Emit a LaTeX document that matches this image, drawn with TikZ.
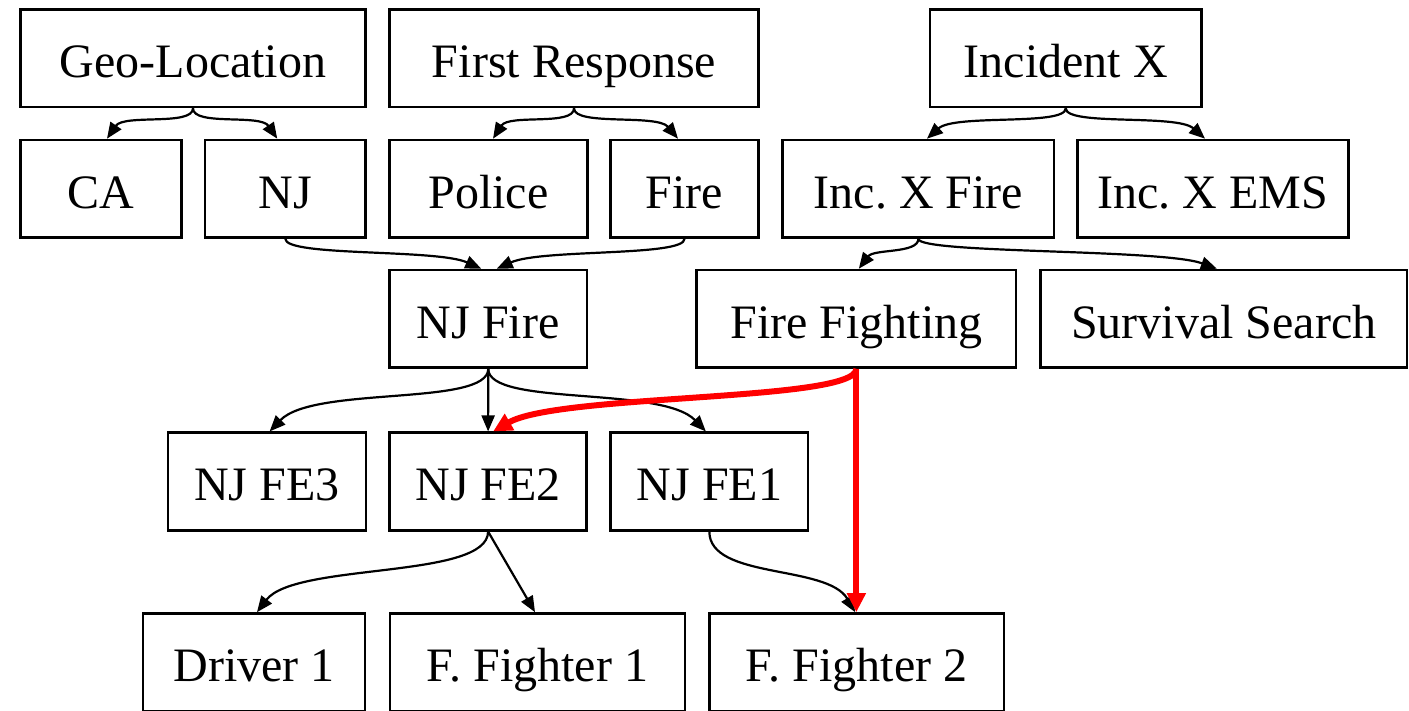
\documentclass[tikz,border=0pt]{standalone}
\usepackage{fontspec}
\setmainfont{Liberation Serif}
\usetikzlibrary{arrows.meta,calc}
\begin{document}
\frenchspacing
\begin{tikzpicture}[x=0.5pt,y=-0.5pt,
  box/.style={draw, line width=1.3pt, inner sep=0pt, minimum height=48.75pt,
    font=\fontsize{24}{28}\selectfont, text height=19.3pt, text depth=0pt},
  link/.style={line width=1.1pt, -{Triangle[length=8pt,width=6.5pt]}},
  hot/.style={draw=red, line width=3pt, -{Triangle[length=9.5pt,width=9pt]}, red},
]
\useasboundingbox (0,0) rectangle (1409,711);

% top row
\node[box, minimum width=172.5pt]  (geo)   at (193,58.25)    {Geo-Location};
\node[box, minimum width=184.5pt]  (first) at (574,58.25)    {First Response};
\node[box, minimum width=135.75pt] (incx)  at (1065.75,58.25) {Incident X};

% second row
\node[box, minimum width=80.5pt]   (ca)      at (101,188.75)    {CA};
\node[box, minimum width=80.25pt]  (nj)      at (285.25,188.75) {NJ};
\node[box, minimum width=99pt]     (police)  at (488.5,188.75)  {Police};
\node[box, minimum width=74pt]     (fire)    at (684.6,188.75)  {Fire};
\node[box, minimum width=135.65pt] (incfire) at (918.35,188.75) {Inc. X Fire};
\node[box, minimum width=135.3pt]  (incems)  at (1213,188.75)   {Inc. X EMS};

% third row
\node[box, minimum width=98.75pt]  (njfire)   at (488.25,318.75)  {NJ Fire};
\node[box, minimum width=159.65pt] (fighting) at (856.35,318.75)  {Fire Fighting};
\node[box, minimum width=183.15pt] (survival) at (1223.85,318.75) {Survival Search};

% fourth row
\node[box, minimum width=99pt]    (fe3) at (267,481.5)    {NJ FE3};
\node[box, minimum width=98.5pt]  (fe2) at (488.1,481.5)  {NJ FE2};
\node[box, minimum width=98.65pt] (fe1) at (709.35,481.5) {NJ FE1};

% bottom row
\node[box, minimum width=111pt]    (driver) at (254,662.25)    {Driver 1};
\node[box, minimum width=147.5pt]  (ff1)    at (537.5,662.25)  {F. Fighter 1};
\node[box, minimum width=147.35pt] (ff2)    at (856.65,662.25) {F. Fighter 2};

% hierarchy links
\draw[link] (geo.south) .. controls +(0,18) and +(17,-25) .. ($(ca.north)+(6,0)$);
\draw[link] (geo.south) .. controls +(0,18) and +(-17,-25) .. ($(nj.north)+(-8,0)$);
\draw[link] (first.south) .. controls +(0,18) and +(16,-25) .. ($(police.north)+(4.5,0)$);
\draw[link] (first.south) .. controls +(0,18) and +(-21,-25) .. ($(fire.north)+(-6.6,0)$);
\draw[link] (incx.south) .. controls +(0,18) and +(28,-25) .. ($(incfire.north)+(8.6,0)$);
\draw[link] (incx.south) .. controls +(0,18) and +(-28,-25) .. ($(incems.north)+(-8,0)$);

\draw[link] (nj.south) .. controls +(0,18) and +(-45,-20) .. ($(njfire.north)+(-7,0)$);
\draw[link] (fire.south) .. controls +(0,18) and +(45,-20) .. ($(njfire.north)+(8.5,0)$);
\draw[link] (incfire.south) .. controls +(0,15) and +(15,-20) .. ($(fighting.north)+(2.5,0)$);
\draw[link] (incfire.south) .. controls +(0,15) and +(-55,-20) .. ($(survival.north)+(-7,0)$);

\draw[link] (njfire.south) .. controls +(0,38) and +(44,-46) .. ($(fe3.north)+(2.6,0)$);
\draw[link] (njfire.south) -- (fe2.north);
\draw[link] (njfire.south) .. controls +(0,38) and +(-44,-46) .. ($(fe1.north)+(-3.5,0)$);

\draw[link] (fe2.south) .. controls +(0,48) and +(38,-50) .. ($(driver.north)+(3,0)$);
\draw[link] (fe2.south) -- ($(ff1.north)+(-2.5,0)$);
\draw[link] (fe1.south) .. controls +(0,48) and +(-28,-48) .. ($(ff2.north)+(-1.5,0)$);

% highlighted assignment links
\draw[hot] (fighting.south) .. controls +(0,33) and +(66,-38) .. ($(fe2.north)+(5,0)$);
\draw[hot] (fighting.south) -- (fighting.south |- ff2.north);
\end{tikzpicture}
\end{document}
